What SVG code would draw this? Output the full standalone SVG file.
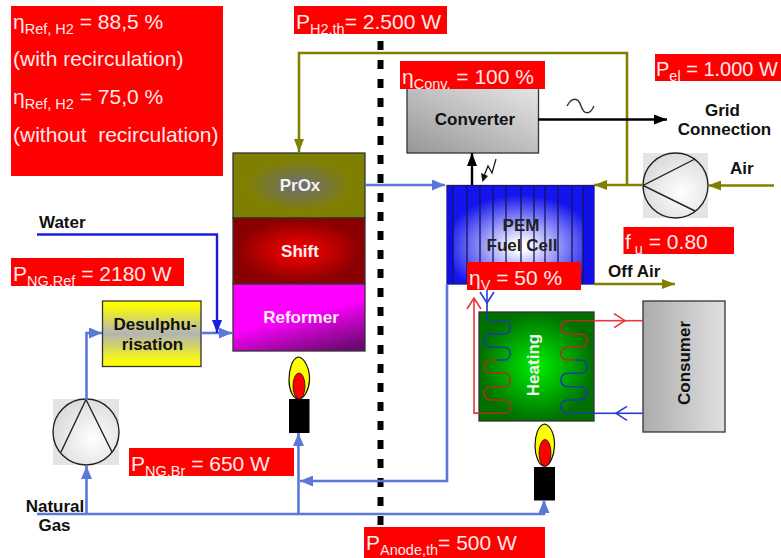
<svg xmlns="http://www.w3.org/2000/svg" width="781" height="558" viewBox="0 0 781 558">
<style>
text{font-family:"Liberation Sans",Arial,sans-serif}
.v{font-size:21px;fill:#ffe9e9}
.s{font-size:14.5px}
.k{font-size:17px;font-weight:bold;fill:#111;text-anchor:middle}
.w{font-size:17px;font-weight:bold;fill:#f4f0f4;text-anchor:middle}
.r{fill:#f00}
.n{stroke:#333;stroke-width:1.3}
.ol{fill:none;stroke:#808000;stroke-width:2.6}
.lb{fill:none;stroke:#5b78d8;stroke-width:2.6}
.db{fill:none;stroke:#1c1ce0;stroke-width:2.4}
.bk{fill:none;stroke:#000;stroke-width:2.4}
.rc{fill:none;stroke:#a8321e;stroke-width:1.6}
.bc{fill:none;stroke:#17409a;stroke-width:1.6}
.red{fill:none;stroke:#e8383a;stroke-width:1.6}
.blu{fill:none;stroke:#2a3ad8;stroke-width:1.6}
</style>
<defs>
<radialGradient id="gP"><stop offset="0.1" stop-color="#70706a"/><stop offset="0.8" stop-color="#808000"/></radialGradient>
<radialGradient id="gS"><stop offset="0" stop-color="#ff0000"/><stop offset="0.95" stop-color="#8a0000"/></radialGradient>
<linearGradient id="gR" x1="0.3" y1="0" x2="0.8" y2="1"><stop offset="0.45" stop-color="#ff00ff"/><stop offset="1" stop-color="#6a0a70"/></linearGradient>
<linearGradient id="gD" x1="0" y1="0" x2="0" y2="1"><stop offset="0.05" stop-color="#ffff00"/><stop offset="0.5" stop-color="#b4b4b4"/><stop offset="0.95" stop-color="#ffff00"/></linearGradient>
<linearGradient id="gC" x1="0" y1="1" x2="1" y2="0"><stop offset="0" stop-color="#969696"/><stop offset="1" stop-color="#e6e6e6"/></linearGradient>
<linearGradient id="gU" x1="0" y1="0" x2="1" y2="0"><stop offset="0" stop-color="#acacac"/><stop offset="1" stop-color="#e0e0e0"/></linearGradient>
<radialGradient id="gH"><stop offset="0" stop-color="#00f000"/><stop offset="1" stop-color="#007000"/></radialGradient>
<radialGradient id="gF" cx="0.5" cy="0.62" r="0.55"><stop offset="0.08" stop-color="#ffffff"/><stop offset="0.95" stop-color="#1414ee"/></radialGradient>
<radialGradient id="gK" cx="0.6" cy="0.6" r="0.7"><stop offset="0" stop-color="#ffffff"/><stop offset="1" stop-color="#d6d6d6"/></radialGradient>
<marker id="aO" markerUnits="userSpaceOnUse" markerWidth="14" markerHeight="10" refX="13" refY="5" orient="auto"><path d="M0 0L13 5L0 10z" fill="#808000"/></marker>
<marker id="aL" markerUnits="userSpaceOnUse" markerWidth="14" markerHeight="11" refX="13" refY="5.500" orient="auto"><path d="M0 0L13 5.500L0 11z" fill="#5b78d8"/></marker>
<marker id="aD" markerUnits="userSpaceOnUse" markerWidth="14" markerHeight="10" refX="13" refY="5" orient="auto"><path d="M0 0L13 5L0 10z" fill="#1c1ce0"/></marker>
<marker id="aB" markerUnits="userSpaceOnUse" markerWidth="14" markerHeight="10" refX="13" refY="5" orient="auto"><path d="M0 0L13 5L0 10z" fill="#000"/></marker>
<marker id="oR" markerUnits="userSpaceOnUse" markerWidth="14" markerHeight="16" refX="12" refY="8" orient="auto"><path d="M1 1L12 8L1 15" fill="none" stroke="#e8383a" stroke-width="1.6"/></marker>
<marker id="oB" markerUnits="userSpaceOnUse" markerWidth="14" markerHeight="16" refX="12" refY="8" orient="auto"><path d="M1 1L12 8L1 15" fill="none" stroke="#2a3ad8" stroke-width="1.6"/></marker>
</defs>
<rect width="781" height="558" fill="#fff"/>

<g id="nodes">
<g id="prox"><rect x="233" y="153" width="132" height="65" fill="url(#gP)" class="n"/><text x="300" y="191" class="w">PrOx</text></g>
<g id="shift"><rect x="233" y="218" width="132" height="66" fill="url(#gS)" class="n"/><text x="300" y="257" class="w">Shift</text></g>
<g id="reformer"><rect x="233" y="284" width="132" height="67" fill="url(#gR)" class="n"/><text x="301" y="323" class="w">Reformer</text></g>
<g id="desulph"><rect x="102.500" y="301" width="98.500" height="65.500" fill="url(#gD)" class="n"/><text x="155" y="330" class="k">Desulphu-</text><text x="152.500" y="350" class="k">risation</text></g>
<g id="converter"><rect x="407" y="88" width="131.500" height="65" fill="url(#gC)" class="n"/><text x="475" y="125" class="k">Converter</text></g>
<g id="fuelcell">
<rect x="447" y="185.500" width="147" height="98.500" fill="url(#gF)" stroke="#1a1a60" stroke-width="1.300"/>
<rect x="447" y="186" width="6" height="98" fill="#0f0fe6"/><rect x="583" y="186" width="11" height="98" fill="#0f0fe6"/>
<path d="M453 186V284M467 186V284M480 186V284M493 186V284M506 186V284M521 186V284M534 186V284M545 186V284M558 186V284M572 186V284M583 186V284" stroke="#14145a" stroke-width="1.300" fill="none"/>
<text x="521" y="231" class="k" style="fill:#222">PEM</text><text x="522" y="251" class="k" style="fill:#222">Fuel Cell</text>
</g>
<g id="aircomp"><rect x="643" y="153" width="65" height="65" fill="#e4e4e4"/><circle cx="675.500" cy="185.500" r="32.500" fill="url(#gK)" stroke="#222" stroke-width="1.400"/><path d="M695 159L643 185.500L695 211" fill="none" stroke="#222" stroke-width="1.400"/></g>
<g id="ngcomp"><rect x="53" y="399" width="66" height="66" fill="#e4e4e4"/><circle cx="86" cy="432" r="33" fill="url(#gK)" stroke="#222" stroke-width="1.400"/><path d="M61 452L86 399.500L112 452" fill="none" stroke="#222" stroke-width="1.400"/></g>
<g id="heating"><rect x="479" y="312" width="115" height="109" fill="url(#gH)" class="n"/><text transform="translate(539,365) rotate(-90)" class="w">Heating</text></g>
<g id="consumer"><rect x="643" y="301" width="82" height="131" fill="url(#gU)" class="n"/><text transform="translate(690,363) rotate(-90)" class="k">Consumer</text></g>
<g id="burner1"><path d="M298.500 357C305 358 310 370 309.500 380C309 390 304 399 298.500 399C293 399 289 390 289 380C289 370 292 358 298.500 357z" fill="#ff0" stroke="#111" stroke-width="1.200"/><ellipse cx="299" cy="386" rx="6" ry="13" fill="#f00" stroke="#111" stroke-width="0.800"/><rect x="289" y="399" width="20.500" height="34" fill="#000"/></g>
<g id="burner2"><path d="M544.500 424C551 425 555 436 554.500 446C554 456 550 466 544.500 466C539 466 535 456 535 446C535 436 538 425 544.500 424z" fill="#ff0" stroke="#111" stroke-width="1.200"/><ellipse cx="545" cy="453" rx="6" ry="13.500" fill="#f00" stroke="#111" stroke-width="0.800"/><rect x="534" y="467" width="21" height="33.500" fill="#000"/></g>
</g>

<g id="connectors">
<path d="M380.500 41V525" fill="none" stroke="#000" stroke-width="6" stroke-dasharray="9 10"/>
<path class="ol" d="M627 185V53H299V152" marker-end="url(#aO)"/>
<path class="ol" d="M643 185H594" marker-end="url(#aO)"/>
<path class="ol" d="M774 185.500H708" marker-end="url(#aO)"/>
<path class="ol" d="M594 284H675" marker-end="url(#aO)"/>
<path class="lb" d="M365 185H445" marker-end="url(#aL)"/>
<path class="lb" d="M447 284V481H300" marker-end="url(#aL)"/>
<path class="lb" d="M37 514H544V500" marker-end="url(#aL)"/>
<path class="lb" d="M298.500 514V433" marker-end="url(#aL)"/>
<path class="lb" d="M86.500 514V466" marker-end="url(#aL)"/>
<path class="lb" d="M86.500 400V333H102" marker-end="url(#aL)"/>
<path class="lb" d="M201 333H232" marker-end="url(#aL)"/>
<path class="db" d="M37 234.500H217V333" marker-end="url(#aD)"/>
<path class="bk" d="M538 119.500H667" marker-end="url(#aB)"/>
<path class="bk" d="M472 185V153" marker-end="url(#aB)"/>
<path d="M567 106C572 97 578 97 581 106C584 115 590 115 594 106" fill="none" stroke="#333" stroke-width="1.400"/>
<path d="M496 159L492 173L488 166L484 176" fill="none" stroke="#111" stroke-width="1.200"/>
<path d="M482.500 182L481 173L488 176z" fill="#111"/>
<path class="blu" d="M487 290V303" marker-end="url(#oB)"/>
<path class="bc" d="M487 303V317Q487 320.700 491 320.700H504C512.500 320.700 512.500 334 504 334H491C481.500 334 481.500 347.300 491 347.300H504C512.500 347.300 512.500 360 504 360H497"/>
<path class="rc" d="M497 360H491C481.500 360 481.500 373.300 491 373.300H504C512.500 373.300 512.500 386.700 504 386.700H491C481.500 386.700 481.500 400 491 400H504C512.500 400 512.500 413.300 504 413.300H474"/>
<path class="red" d="M479 413.300H474V298" marker-end="url(#oR)"/>
<path class="rc" d="M594 320.700H568C558.500 320.700 558.500 334 568 334H580C589.500 334 589.500 347.300 580 347.300H568C558.500 347.300 558.500 360 568 360H575"/>
<path class="bc" d="M575 360H580C589.500 360 589.500 373.300 580 373.300H568C558.500 373.300 558.500 386.700 568 386.700H580C589.500 386.700 589.500 400 580 400H568C558.500 400 558.500 413.300 568 413.300H594"/>
<path class="red" d="M594 320.700H625" marker-end="url(#oR)"/>
<path class="red" d="M625 320.700H643"/>
<path class="blu" d="M643 413.300H616" marker-end="url(#oB)"/>
<path class="blu" d="M616 413.300H594"/>
</g>

<g id="labels">
<text x="39" y="228" style="font-size:17px;font-weight:bold;fill:#111">Water</text>
<text x="608" y="277" style="font-size:17px;font-weight:bold;fill:#111">Off Air</text>
<text x="730" y="174" style="font-size:17px;font-weight:bold;fill:#111">Air</text>
<text x="722.500" y="116" class="k">Grid</text><text x="724.500" y="135" class="k">Connection</text>
<text x="55" y="512" class="k">Natural</text><text x="54.500" y="531" class="k">Gas</text>
</g>

<g id="values">
<rect class="r" x="11" y="6" width="212" height="170"/>
<text class="v" x="13" y="29">η<tspan class="s" dy="5">Ref, H2</tspan><tspan dy="-5"> = 88,5 %</tspan></text>
<text class="v" x="13" y="66">(with recirculation)</text>
<text class="v" x="13" y="104">η<tspan class="s" dy="5">Ref, H2</tspan><tspan dy="-5"> = 75,0 %</tspan></text>
<text class="v" x="13" y="142" xml:space="preserve">(without  recirculation)</text>
<rect class="r" x="294" y="6" width="153" height="28"/>
<text class="v" x="296" y="29">P<tspan class="s" dy="5">H2,th</tspan><tspan dy="-5">= 2.500 W</tspan></text>
<rect class="r" x="400" y="61" width="145" height="28"/>
<text class="v" x="402" y="84">η<tspan class="s" dy="5">Conv.</tspan><tspan dy="-5"> = 100 %</tspan></text>
<rect class="r" x="655" y="54" width="126" height="27"/>
<text class="v" x="656" y="76" style="font-size:20px">P<tspan class="s" dy="5">el</tspan><tspan dy="-5"> = 1.000 W</tspan></text>
<rect class="r" x="623.500" y="227" width="110.500" height="27"/>
<text class="v" x="625" y="249">f<tspan class="s" dy="5"> u</tspan><tspan dy="-5"> = 0.80</tspan></text>
<rect class="r" x="467" y="262" width="114" height="28"/>
<text class="v" x="469" y="285">η<tspan class="s" dy="5">V</tspan><tspan dy="-5"> = 50 %</tspan></text>
<rect class="r" x="11" y="258" width="173" height="28"/>
<text class="v" x="13" y="281">P<tspan class="s" dy="5">NG,Ref</tspan><tspan dy="-5"> = 2180 W</tspan></text>
<rect class="r" x="129" y="448" width="165" height="28"/>
<text class="v" x="131" y="471">P<tspan class="s" dy="5">NG,Br</tspan><tspan dy="-5"> = 650 W</tspan></text>
<rect class="r" x="364" y="527" width="181" height="31"/>
<text class="v" x="366" y="550">P<tspan class="s" dy="5">Anode,th</tspan><tspan dy="-5">= 500 W</tspan></text>
</g>
</svg>
